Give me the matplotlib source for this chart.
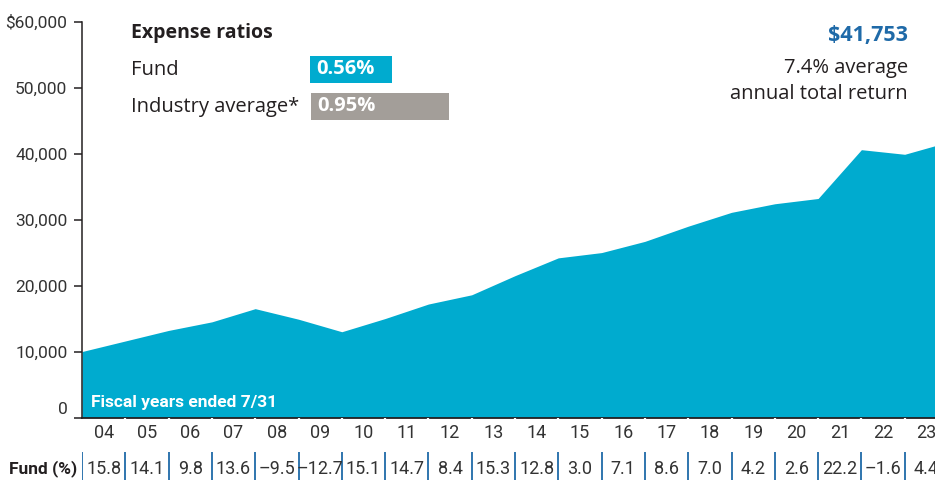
"""Growth of $10,000 in the fund, with yearly fund returns underneath."""

import matplotlib
matplotlib.use("Agg")
import matplotlib.pyplot as plt
from matplotlib.patches import Rectangle
from matplotlib.ticker import FuncFormatter

# value of a hypothetical $10,000 investment at each fiscal year end (7/31), FY03 through FY23
account_values = [10000, 11600, 13200, 14500, 16500, 14900, 13000, 15000, 17200, 18600,
                  21500, 24200, 25000, 26700, 29000, 31100, 32400, 33200, 40600, 39900, 41753]
fiscal_years = ["04", "05", "06", "07", "08", "09", "10", "11", "12", "13",
                "14", "15", "16", "17", "18", "19", "20", "21", "22", "23"]
fund_returns = [15.8, 14.1, 9.8, 13.6, -9.5, -12.7, 15.1, 14.7, 8.4, 15.3,
                12.8, 3.0, 7.1, 8.6, 7.0, 4.2, 2.6, 22.2, -1.6, 4.4]
y_ticks = [0, 10000, 20000, 30000, 40000, 50000, 60000]

expense_labels = ["Fund", "Industry average*"]
expense_ratios = [0.56, 0.95]
ending_value = 41753
avg_return = 7.4

W, H = 935, 480
AREA = "#00abcf"
GREY_BOX = "#a39e99"
NAVY = "#1f6aa8"
TEXT = "#231f20"
NARROW = ["Roboto", "DejaVu Sans"]
MAIN = ["Open Sans", "DejaVu Sans"]


def fx(px):
    return px / W


def fy(py):
    return 1 - py / H


def money(v, _pos=None):
    if v == y_ticks[-1]:
        return f"${v:,.0f}"
    return f"{v:,.0f}"


def draw_area(fig):
    ax = fig.add_axes([fx(82), fy(417.5), 866 / W, (417.5 - 21.7) / H])
    xs = list(range(len(account_values)))
    ax.fill_between(xs, account_values, 0, color=AREA, lw=0)
    ax.set_xlim(0, len(fiscal_years))
    ax.set_ylim(y_ticks[0], y_ticks[-1])
    for side in ["top", "right"]:
        ax.spines[side].set_visible(False)
    ax.spines["left"].set_color(TEXT)
    ax.spines["left"].set_linewidth(1.1)
    ax.spines["bottom"].set_color(TEXT)
    ax.spines["bottom"].set_linewidth(1.3)
    ax.set_xticks([])
    ax.set_yticks(y_ticks)
    ax.yaxis.set_major_formatter(FuncFormatter(money))
    ax.tick_params(axis="y", length=6, width=1.1, color=TEXT, pad=4.5,
                   labelsize=12.5, labelcolor="#333333")
    for lab in ax.get_yticklabels():
        lab.set_family(NARROW)
        if lab.get_text() == "0":
            lab.set_verticalalignment("bottom")
    ax.text(0.2, 2300, "Fiscal years ended 7/31", color="white", fontsize=12.5,
            fontweight="bold", family=NARROW, ha="left", va="center")
    return ax


def draw_year_band(fig):
    band = fig.add_axes([fx(82), fy(449), 866 / W, 31.5 / H])
    band.set_facecolor("#efefeb")
    band.set_xlim(0, len(fiscal_years))
    band.set_ylim(0, 1)
    for k, yr in enumerate(fiscal_years):
        if k > 0:
            band.axvline(k, color="white", lw=1.6)
        band.text(k + 0.5, 0.5, yr, ha="center", va="center", fontsize=13,
                  color="#333333", family=NARROW)
    band.axis("off")
    band.patch.set_visible(True)

    row = fig.add_axes([fx(82), 0, 866 / W, 29 / H])
    row.set_xlim(0, len(fiscal_years))
    row.set_ylim(0, 1)
    row.axis("off")
    for k, r in enumerate(fund_returns):
        row.plot([k, k], [0, 0.95], color=NAVY, lw=1.3, solid_capstyle="butt")
        row.text(k + 0.5, 0.38, f"{r:.1f}".replace("-", "\u2013"), ha="center",
                 va="center", fontsize=13, color="#333333", family=NARROW)
    fig.text(fx(77), fy(469), "Fund (%)", ha="right", va="center", fontsize=12.5,
             fontweight="bold", color=TEXT, family=NARROW)


def draw_legend(fig):
    fig.text(fx(131), fy(33), "Expense ratios", fontsize=14, fontweight="bold",
             color=TEXT, family=MAIN, va="center")
    boxes = [(310, 56, 82, 26.5, AREA), (311, 93, 138, 26.5, GREY_BOX)]
    for (label, ratio), (bx, by, bw, bh, col), ty in zip(
            zip(expense_labels, expense_ratios), boxes, [70, 107]):
        fig.text(fx(131), fy(ty), label, fontsize=14.5, color=TEXT, family=MAIN,
                 va="center")
        fig.patches.append(Rectangle((fx(bx), fy(by + bh)), bw / W, bh / H,
                                     transform=fig.transFigure, color=col, lw=0))
        fig.text(fx(bx + 6), fy(by + bh / 2), f"{ratio:.2f}%", fontsize=14.5,
                 fontweight="bold", color="white", family=MAIN, va="center")

    fig.text(fx(908), fy(35), f"${ending_value:,}", fontsize=15.5, fontweight="bold",
             color=NAVY, family=MAIN, ha="right", va="center")
    fig.text(fx(908), fy(68), f"{avg_return}% average", fontsize=14.5, color=TEXT,
             family=MAIN, ha="right", va="center")
    fig.text(fx(908), fy(94), "annual total return", fontsize=14.5, color=TEXT,
             family=MAIN, ha="right", va="center")


def main() -> None:
    fig = plt.figure(figsize=(W / 100, H / 100), dpi=100)
    draw_area(fig)
    draw_year_band(fig)
    draw_legend(fig)
    fig.savefig("out.png", dpi=100)
    plt.close(fig)


if __name__ == "__main__":
    main()
